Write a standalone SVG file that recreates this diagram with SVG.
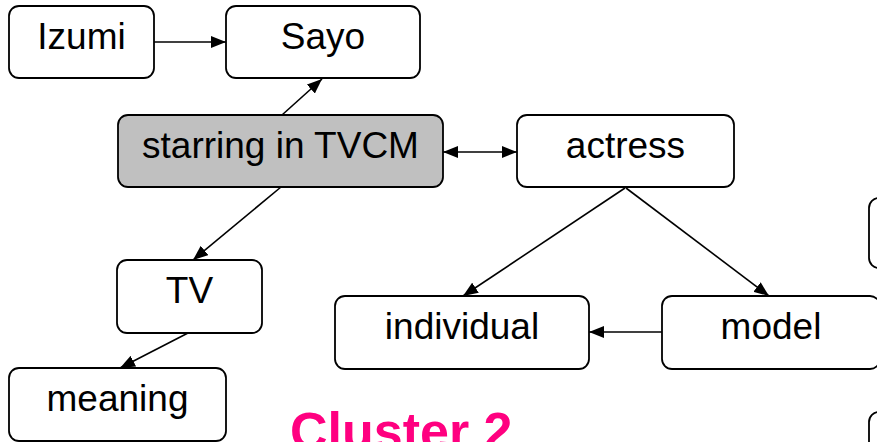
<svg xmlns="http://www.w3.org/2000/svg" width="877" height="442" viewBox="0 0 877 442">
  <style>
    .node rect { fill: #ffffff; stroke: #000000; stroke-width: 1.8; }
    .node.hl rect { fill: #c0c0c0; }
    .node text { font-family: "Liberation Sans", Arial, sans-serif; font-size: 37px; fill: #000000; text-anchor: middle; }
    .edge { stroke: #000000; stroke-width: 1.6; fill: none; marker-end: url(#arrow); }
    .both { marker-start: url(#arrowStart); }
    .cluster { font-family: "Liberation Sans", Arial, sans-serif; font-weight: bold; font-size: 52px; fill: #ff0080; }
  </style>
  <defs>
    <marker id="arrow" viewBox="0 0 15 12" refX="15" refY="6" markerWidth="15" markerHeight="12" markerUnits="userSpaceOnUse" orient="auto">
      <path d="M0,0 L15,6 L0,12 Z" fill="#000000"/>
    </marker>
    <marker id="arrowStart" viewBox="0 0 15 12" refX="0" refY="6" markerWidth="15" markerHeight="12" markerUnits="userSpaceOnUse" orient="auto">
      <path d="M15,0 L0,6 L15,12 Z" fill="#000000"/>
    </marker>
  </defs>

  <rect width="877" height="442" fill="#ffffff"/>

  <g id="connectors">
    <line class="edge" x1="154" y1="42" x2="226" y2="42"/>
    <line class="edge" x1="282" y1="115" x2="322" y2="79"/>
    <line class="edge both" x1="443" y1="152" x2="517" y2="152"/>
    <line class="edge" x1="281" y1="187" x2="193" y2="260"/>
    <line class="edge" x1="188" y1="333" x2="120" y2="368"/>
    <line class="edge" x1="625" y1="188" x2="463" y2="296"/>
    <line class="edge" x1="626" y1="188" x2="769" y2="296"/>
    <line class="edge" x1="662" y1="332" x2="589" y2="332"/>
  </g>

  <g id="izumi" class="node">
    <rect x="9" y="6" width="145" height="72" rx="10"/>
    <text x="81.5" y="49">Izumi</text>
  </g>
  <g id="sayo" class="node">
    <rect x="226" y="6" width="194" height="72" rx="10"/>
    <text x="323" y="49">Sayo</text>
  </g>
  <g id="starring" class="node hl">
    <rect x="118" y="115" width="325" height="72" rx="10"/>
    <text x="280.5" y="158">starring in TVCM</text>
  </g>
  <g id="actress" class="node">
    <rect x="517" y="115" width="217" height="72" rx="10"/>
    <text x="625.5" y="158">actress</text>
  </g>
  <g id="tv" class="node">
    <rect x="117" y="260" width="145" height="73" rx="10"/>
    <text x="189.5" y="303">TV</text>
  </g>
  <g id="individual" class="node">
    <rect x="335" y="296" width="254" height="73" rx="10"/>
    <text x="462" y="339">individual</text>
  </g>
  <g id="model" class="node">
    <rect x="662" y="296" width="218" height="73" rx="10"/>
    <text x="771" y="339">model</text>
  </g>
  <g id="meaning" class="node">
    <rect x="9" y="368" width="217" height="73" rx="10"/>
    <text x="117.5" y="411">meaning</text>
  </g>
  <g id="edge-node-upper" class="node">
    <rect x="869" y="198" width="60" height="70" rx="10"/>
  </g>
  <g id="edge-node-lower" class="node">
    <rect x="869" y="412" width="60" height="70" rx="10"/>
  </g>

  <text class="cluster" x="290" y="449">Cluster 2</text>
</svg>
